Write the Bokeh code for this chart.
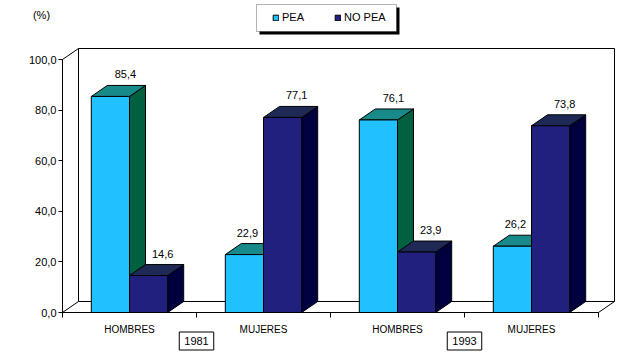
from bokeh.plotting import figure
from bokeh.models import (Range1d, FixedTicker, CustomJSTickFormatter, Label, Legend,
                          LegendItem, BoxAnnotation, ColumnDataSource)
from bokeh.core.properties import value
from bokeh.embed import file_html
from bokeh.resources import INLINE

# ---------------- data ----------------
categories = ["HOMBRES", "MUJERES", "HOMBRES", "MUJERES"]
years = ["1981", "1993"]
series = ["PEA", "NO PEA"]
pea = [85.4, 22.9, 76.1, 26.2]
no_pea = [14.6, 77.1, 23.9, 73.8]
y_ticks = [0, 20, 40, 60, 80, 100]

# ---------------- style / layout ----------------
FONT = "Liberation Sans"
W, H = 641, 354
X0_PX, Y0_PX = 62, 312         # canvas position of the data origin (front plane)
CAT_PX = 134                   # px per category
UNIT_PX = 2.53                 # px per percent
DX = 16 / CAT_PX               # depth offset (data units)
DY = 11 / UNIT_PX
front_col = {"PEA": "#21C0FF", "NO PEA": "#22207F"}
top_col = {"PEA": "#188A8A", "NO PEA": "#1E2A55"}
side_col = {"PEA": "#006040", "NO PEA": "#00003F"}
bar_span = {"PEA": (0.215, 0.5), "NO PEA": (0.5, 0.785)}

p = figure(width=W, height=H, output_backend="svg", toolbar_location=None,
           x_range=Range1d(-X0_PX / CAT_PX, (W - X0_PX) / CAT_PX),
           y_range=Range1d(-(H - Y0_PX) / UNIT_PX, Y0_PX / UNIT_PX),
           min_border=0, min_border_left=0, min_border_right=0,
           min_border_top=0, min_border_bottom=0)
p.outline_line_color = None
p.xgrid.visible = False
p.ygrid.visible = False
p.background_fill_color = "white"
p.border_fill_color = "white"

n = len(categories)
ymax = y_ticks[-1]

# back wall and floor (3D frame)
p.segment(x0=[DX, DX, DX, n + DX, 0, 0, n],
          y0=[DY, ymax + DY, DY, DY, 0, ymax, 0],
          x1=[DX, n + DX, n + DX, n + DX, DX, DX, n + DX],
          y1=[ymax + DY, ymax + DY, DY, ymax + DY, DY, ymax + DY, DY],
          line_color="black", line_width=1)

# 3D bars
front_renderers = {}
label_sources = []
for name, vals in (("PEA", pea), ("NO PEA", no_pea)):
    a, b = bar_span[name]
    x0 = [i + a for i in range(n)]
    x1 = [i + b for i in range(n)]
    side_xs = [[r, r + DX, r + DX, r] for r in x1]
    side_ys = [[0, DY, v + DY, v] for v in vals]
    top_xs = [[l, r, r + DX, l + DX] for l, r in zip(x0, x1)]
    top_ys = [[v, v, v + DY, v + DY] for v in vals]
    p.patches(side_xs, side_ys, fill_color=side_col[name], line_color="black", line_width=1)
    p.patches(top_xs, top_ys, fill_color=top_col[name], line_color="black", line_width=1)
    front_renderers[name] = p.quad(left=x0, right=x1, bottom=0, top=vals,
                                   fill_color=front_col[name], line_color="black", line_width=1)
    if name == "PEA":
        # shift label left when the neighbouring bar is taller
        xoff = [-13 if v < o else -1 for v, o in zip(pea, no_pea)]
    else:
        xoff = [-2] * n
    label_sources.append(ColumnDataSource(dict(
        x=[(l + r) / 2 + DX for l, r in zip(x0, x1)],
        y=[v + DY for v in vals],
        xo=xoff,
        t=[f"{v:.1f}".replace(".", ",") for v in vals])))

for src in label_sources:
    p.text(x="x", y="y", text="t", source=src, text_align="center", text_baseline="middle",
           x_offset="xo", y_offset=-11, text_font=value(FONT), text_font_size="11px",
           text_color="black")

# axes (drawn at the data origin)
ya = p.yaxis[0]
ya.fixed_location = 0
ya.ticker = FixedTicker(ticks=y_ticks, minor_ticks=[])
ya.formatter = CustomJSTickFormatter(code="return tick.toFixed(1).replace('.', ',')")
ya.bounds = (0, ymax)
ya.major_tick_out = 4
ya.major_tick_in = 0
ya.major_label_standoff = 2
ya.major_label_text_font = FONT
ya.major_label_text_font_size = "11px"
ya.major_label_text_color = "black"
ya.axis_line_color = "black"

xa = p.xaxis[0]
xa.fixed_location = 0
xa.ticker = FixedTicker(ticks=[i + 0.5 for i in range(n)], minor_ticks=list(range(n + 1)))
xa.formatter = CustomJSTickFormatter(args=dict(labels=categories),
                                     code="return labels[Math.floor(tick)]")
xa.bounds = (0, n)
xa.major_tick_out = 0
xa.major_tick_in = 0
xa.minor_tick_out = 5
xa.minor_tick_in = 0
xa.major_label_standoff = 6
xa.major_label_text_font = FONT
xa.major_label_text_font_size = "10px"
xa.major_label_text_color = "black"
xa.axis_line_color = "black"

# year boxes, under the boundary between the two groups of each year
for k, yr in enumerate(years):
    p.add_layout(Label(x=2 * k + 1, y=H - 340.5, x_units="data", y_units="screen", text=yr,
                       text_align="center", text_baseline="middle", text_font=FONT,
                       text_font_size="11px", text_color="black",
                       border_line_color="black", background_fill_color="white", padding=5))

# "(%)"
p.add_layout(Label(x=41, y=H - 14, x_units="screen", y_units="screen", text="(%)",
                   text_align="center", text_baseline="middle", text_font=FONT,
                   text_font_size="11px", text_color="black"))

# legend box with shadow
p.add_layout(BoxAnnotation(left=259, right=399, bottom=H - 34, top=H - 7,
                           left_units="screen", right_units="screen", bottom_units="screen",
                           top_units="screen", fill_color="black", fill_alpha=1, line_color=None))
p.add_layout(BoxAnnotation(left=256, right=396, bottom=H - 31, top=H - 4,
                           left_units="screen", right_units="screen", bottom_units="screen",
                           top_units="screen", fill_color="white", fill_alpha=1,
                           line_color="black", line_width=1))
legend = Legend(items=[LegendItem(label=s, renderers=[front_renderers[s]]) for s in series],
                location=(272, H - 23), orientation="horizontal",
                padding=0, margin=0, spacing=30, glyph_width=7, glyph_height=7,
                label_height=11, label_standoff=3, label_text_font=FONT,
                label_text_font_size="11px", label_text_color="black",
                border_line_color=None, background_fill_alpha=0)
p.add_layout(legend, "center")

open("out.html", "w").write(file_html(p, INLINE))
